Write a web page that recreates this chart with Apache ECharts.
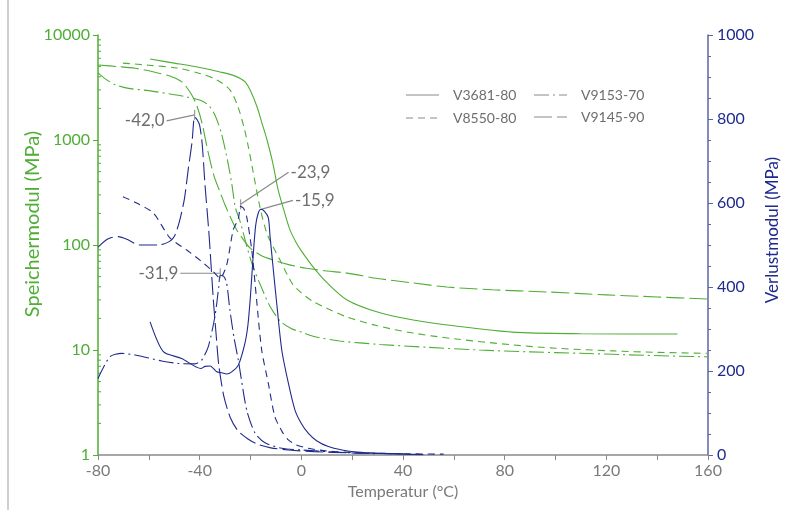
<!DOCTYPE html>
<html>
<head>
<meta charset="utf-8">
<script src="https://cdn.jsdelivr.net/npm/echarts@6/dist/echarts.min.js"></script>
<style>html,body{margin:0;padding:0;background:#fff;}#c{width:790px;height:510px;}</style>
</head>
<body>
<div id="c"></div>
<script>
// ---- data ----
const xTicks = [-80, -40, 0, 40, 80, 120, 160];
const leftTicks = [1, 10, 100, 1000, 10000];
const rightTicks = [0, 200, 400, 600, 800, 1000];
const seriesNames = ['V3681-80', 'V8550-80', 'V9153-70', 'V9145-90'];

// Storage modulus (MPa) [temperature °C, value]
const storageV3681 = [[-59.5,5900],[-50,5400],[-40,4900],[-32,4450],[-27,4150],[-24,3850],[-22,3550],[-20,2950],[-17.4,2060],[-15.5,1450],[-13.5,1000],[-11.2,600],[-9.2,340],[-7,220],[-4.5,140],[-2,105],[0,88],[4.6,62],[10,44],[18,30],[30,23],[44,19.3],[60,17],[83,14.8],[110,14.3],[148,14.2]];
const storageV8550 = [[-70.2,5400],[-60,5150],[-49,4850],[-40,4300],[-33.2,3730],[-28.1,3000],[-24.9,2060],[-22.5,1300],[-21,900],[-19.3,550],[-16.3,230],[-13.6,130],[-11,95],[-8.4,72],[-5.5,52],[-3.3,42],[0,35],[4.6,29],[10,25],[18,20.6],[30,17],[44,14.5],[60,12.8],[83,11.2],[100,10.4],[122.6,9.8],[140,9.5],[159.6,9.3]];
const storageV9153 = [[-80,4350],[-77,3800],[-73,3350],[-68,3100],[-60,2950],[-50,2700],[-45.8,2590],[-40,2400],[-36.6,2150],[-34,1730],[-31.3,1120],[-28.7,580],[-27.2,360],[-26,230],[-24,165],[-21.4,96],[-19,62],[-15,36],[-12.3,26],[-8.4,19],[-4,16],[0,14.8],[4.6,13.5],[15,12.2],[31,11.3],[50,10.6],[70,10],[90,9.6],[110,9.3],[135,8.9],[159.6,8.6]];
const storageV9145 = [[-80,5180],[-72,5000],[-65.4,4820],[-58,4450],[-51,4010],[-47.5,3650],[-45.8,3340],[-43.1,2680],[-41.2,2150],[-39.2,1490],[-36.7,770],[-34.3,450],[-32,320],[-30,240],[-27.5,175],[-25.4,139],[-22.5,110],[-20.2,94],[-16,80],[-11.1,72],[-5,65],[2.1,60],[10,56.5],[18,54],[30,48],[44,43.5],[57.3,39.8],[75,37.5],[96.7,35.7],[120,33.5],[140,32],[159.6,30.6]];

// Loss modulus (MPa) [temperature °C, value]
const lossV3681 = [[-59.5,317],[-54.3,246],[-47.1,230],[-39.5,206],[-37.9,211],[-35.9,212],[-33.3,198],[-31.3,196],[-29.4,193],[-27.4,198],[-24.8,214],[-22.2,266],[-21,310],[-20,380],[-19,470],[-18,545],[-17,575],[-15.9,585],[-14.5,580],[-13,565],[-12.3,520],[-11,440],[-9.7,362],[-7.7,250],[-5.1,171],[-2.5,107],[0,75],[2.7,52],[6,34],[10.6,20],[16,12],[22,7],[30,4],[40,2],[48,1]];
const lossV8550 = [[-70.2,615],[-64.8,600],[-58.2,576],[-51.7,517],[-45.1,488],[-39.9,464],[-34.6,436],[-32,421],[-29.4,452],[-26.8,536],[-24.8,562],[-23.9,592],[-22.8,588],[-21.5,567],[-19.5,488],[-18.2,409],[-17.6,369],[-15.6,250],[-13,171],[-10.4,91],[-7.5,55],[-5.1,36],[-2,24],[2.7,16],[8,11],[13.2,8],[25,5],[40,3],[56,2]];
const lossV9153 = [[-80,182],[-75.3,234],[-70.7,242],[-65.4,238],[-55,224],[-48.4,218],[-41.8,217],[-39.2,226],[-36.6,258],[-34,330],[-32.5,400],[-31.9,428],[-30.5,425],[-29.4,410],[-28.1,345],[-26.5,280],[-24.8,226],[-21.5,107],[-18.2,52],[-14.3,29],[-7.7,16],[0,12],[10.5,8],[20,5],[30,3]];
const lossV9145 = [[-80,495],[-76,515],[-72,520],[-68,512],[-64,500],[-56,500],[-52,508],[-50,520],[-48,555],[-46,610],[-44.5,680],[-43,745],[-42,805],[-41,798],[-40,785],[-39,740],[-37.9,643],[-36.5,540],[-35.9,488],[-34.7,376],[-33.5,285],[-32.5,215],[-30.5,140],[-28,90],[-25,58],[-21,38],[-17,25],[-12,17],[-5,12],[5,8],[20,5],[40,3]];

// Peak annotations
const peakTemps = [-42.0, -31.9, -23.9, -15.9];
const peakValues = [805, 428, 592, 585];
const peakLabels = ['-42,0', '-31,9', '-23,9', '-15,9'];

// ---- styles ----
const GREEN = '#4fae35';
const NAVY = '#1f2b8c';
const NAVY_AXIS = '#5a65a5';
const GRAY = '#7a7a7a';
const FONT = 'Lato, "Noto Sans", sans-serif';
const dashes = { solid: 'solid', short: [7, 5], dashdot: [15, 4, 2, 4], long: [18, 5] };
const styleOrder = [dashes.solid, dashes.short, dashes.dashdot, dashes.long];

const storageSets = [storageV3681, storageV8550, storageV9153, storageV9145];
const lossSets = [lossV3681, lossV8550, lossV9153, lossV9145];

const series = [];
storageSets.forEach((d, i) => series.push({
  name: seriesNames[i] + ' Speichermodul', type: 'line', xAxisIndex: 0, yAxisIndex: 0,
  data: d, showSymbol: false, symbol: 'none', smooth: 0.3,
  lineStyle: { color: GREEN, width: 1.1, type: styleOrder[i] }, z: 3
}));
lossSets.forEach((d, i) => series.push({
  name: seriesNames[i] + ' Verlustmodul', type: 'line', xAxisIndex: 0, yAxisIndex: 1,
  data: d, showSymbol: false, symbol: 'none', smooth: 0.25,
  lineStyle: { color: NAVY, width: 1.1, type: styleOrder[i] }, z: 4
}));

const plainNum = v => String(v);

const chart = echarts.init(document.getElementById('c'), null, { renderer: 'canvas' });
chart.setOption({
  animation: false,
  backgroundColor: '#fff',
  textStyle: { fontFamily: FONT },
  grid: { left: 98, right: 82, top: 35, bottom: 55, containLabel: false },
  xAxis: [{
    type: 'value', min: xTicks[0], max: xTicks[xTicks.length - 1], interval: 20,
    axisLine: { onZero: false, lineStyle: { color: '#8a8a8a', width: 1.5 } },
    axisTick: { show: true, length: 5, lineStyle: { color: '#8a8a8a', width: 1 } },
    axisLabel: { color: GRAY, fontSize: 16, fontFamily: FONT, margin: 8,
      formatter: v => (xTicks.indexOf(v) >= 0 ? String(v) : '') },
    splitLine: { show: false }
  }],
  yAxis: [{
    type: 'log', logBase: 10, min: leftTicks[0], max: leftTicks[leftTicks.length - 1], position: 'left',
    axisLine: { show: true, onZero: false, lineStyle: { color: GREEN, width: 1.5 } },
    axisTick: { show: true, length: 5, lineStyle: { color: GREEN, width: 1 } },
    axisLabel: { color: GREEN, fontSize: 16, fontFamily: FONT, margin: 8, formatter: plainNum },
    splitLine: { show: false }
  }, {
    type: 'value', min: rightTicks[0], max: rightTicks[rightTicks.length - 1], interval: 200, position: 'right',
    axisLine: { show: true, onZero: false, lineStyle: { color: NAVY_AXIS, width: 1.5 } },
    axisTick: { show: true, length: 5, lineStyle: { color: NAVY_AXIS, width: 1 } },
    minorTick: { show: true, splitNumber: 4, length: 3, lineStyle: { color: NAVY_AXIS, width: 1 } },
    axisLabel: { color: NAVY, fontSize: 16, fontFamily: FONT, margin: 9, formatter: plainNum },
    splitLine: { show: false }, minorSplitLine: { show: false }
  }],
  series: series
});

// ---- graphics: frame, axis names, legend, minor log ticks, peak annotations ----
const g = [];
g.push({ type: 'line', shape: { x1: 8, y1: 0, x2: 8, y2: 510 }, style: { stroke: '#cfcfcf', lineWidth: 2 } });
g.push({ type: 'text', x: 33, y: 224, rotation: Math.PI / 2,
  style: { text: 'Speichermodul (MPa)', fill: GREEN, font: '20px ' + FONT, textAlign: 'center', textVerticalAlign: 'middle' } });
g.push({ type: 'text', x: 773, y: 230, rotation: Math.PI / 2,
  style: { text: 'Verlustmodul (MPa)', fill: NAVY, font: '17px ' + FONT, textAlign: 'center', textVerticalAlign: 'middle' } });
g.push({ type: 'text', x: 403, y: 492,
  style: { text: 'Temperatur (°C)', fill: GRAY, font: '16px ' + FONT, textAlign: 'center', textVerticalAlign: 'middle' } });

// minor log ticks on the left axis (2..9 in each decade), placed through the axis scale
const axisX = chart.convertToPixel({ xAxisIndex: 0 }, xTicks[0]);
for (let d = 0; d < leftTicks.length - 1; d++) {
  for (let k = 2; k <= 9; k++) {
    const yy = chart.convertToPixel({ yAxisIndex: 0 }, leftTicks[d] * k);
    g.push({ type: 'line', shape: { x1: axisX, y1: yy, x2: axisX + 3, y2: yy }, style: { stroke: GREEN, lineWidth: 1 } });
  }
}

// legend (2 x 2)
const legendPos = [[406, 95], [406, 118], [534, 95], [534, 117]];
seriesNames.forEach((n, i) => {
  const p = legendPos[i];
  const st = styleOrder[i];
  g.push({ type: 'line', shape: { x1: p[0], y1: p[1], x2: p[0] + 33, y2: p[1] },
    style: { stroke: '#8a8a8a', lineWidth: 1.2, lineDash: st === 'solid' ? null : st } });
  g.push({ type: 'text', x: p[0] + 47, y: p[1],
    style: { text: n, fill: '#6e6e6e', font: '14px ' + FONT, textVerticalAlign: 'middle' } });
});

// peak annotations (anchored to the data through the axes)
const labelOffsets = [[-28, 6, 'right', true], [-40, 0, 'right', true], [48, -32, 'left', true], [32, -9, 'left', false]];
peakTemps.forEach((t, i) => {
  const p = chart.convertToPixel({ xAxisIndex: 0, yAxisIndex: 1 }, [t, peakValues[i]]);
  const o = labelOffsets[i];
  const ax = p[0], ay = p[1] - (o[3] ? 2 : 0);
  const lx = ax + o[0], ly = ay + o[1];
  g.push({ type: 'line', shape: { x1: ax, y1: ay, x2: lx, y2: ly }, style: { stroke: '#8a8a8a', lineWidth: 1.2 } });
  if (o[3]) g.push({ type: 'line', shape: { x1: ax, y1: ay - 5, x2: ax, y2: ay + 5 }, style: { stroke: '#9a9a9a', lineWidth: 1.2 } });
  g.push({ type: 'text', x: lx + (o[2] === 'right' ? -2 : 2), y: ly,
    style: { text: peakLabels[i], fill: '#6e6e6e', font: '17px ' + FONT, textAlign: o[2], textVerticalAlign: 'middle' } });
});
chart.setOption({ graphic: g });
</script>
</body>
</html>
